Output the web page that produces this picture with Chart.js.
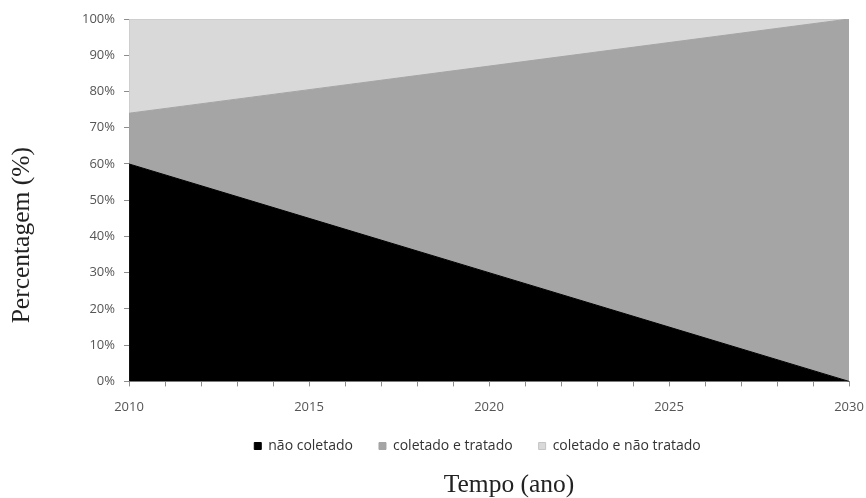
<!DOCTYPE html>
<html>
<head>
<meta charset="utf-8">
<script src="https://cdn.jsdelivr.net/npm/chart.js@4/dist/chart.umd.min.js"></script>
<style>
  html, body { margin: 0; padding: 0; background: #fff; }
  #wrap { width: 866px; height: 498px; }
</style>
</head>
<body>
<div id="wrap"><canvas id="c" width="866" height="498"></canvas></div>
<script>
// Shares of waste by destination over time (percent, stacked to 100%)
const years = [2010, 2015, 2020, 2025, 2030];
const naoColetado = [60, 45, 30, 15, 0];
const coletadoTratado = [14, 35.5, 57, 78.5, 100];
const coletadoNaoTratado = [26, 19.5, 13, 6.5, 0];
const seriesNames = ['não coletado', 'coletado e tratado', 'coletado e não tratado'];
const xTickLabels = [2010, 2015, 2020, 2025, 2030];
const xTitle = 'Tempo (ano)';
const yTitle = 'Percentagem (%)';

const toPoints = arr => years.map((y, i) => ({ x: y, y: arr[i] }));

const sans = '"Open Sans", "Liberation Sans", sans-serif';
const serif = '"Liberation Serif", "DejaVu Serif", serif';
const tickFont = { family: sans, size: 13 };
const captionFont = '25.5px ' + serif;

// Legend sits close under the tick labels
const placeLegend = {
  id: 'placeLegend',
  afterLayout(chart) {
    const lg = chart.legend;
    if (!lg) return;
    lg.left += 8; lg.right += 8;
    lg.top -= 15; lg.bottom -= 15;
  }
};

// Axis captions in a serif face, offset from the plot centre
const axisCaptions = {
  id: 'axisCaptions',
  afterDraw(chart) {
    const { ctx, chartArea } = chart;
    ctx.save();
    ctx.fillStyle = '#222';
    ctx.font = captionFont;
    ctx.textAlign = 'center';
    ctx.textBaseline = 'middle';
    ctx.fillText(xTitle, (chartArea.left + chartArea.right) / 2 + 20, chart.height - 13);
    ctx.translate(22, (chartArea.top + chartArea.bottom) / 2 + 35);
    ctx.rotate(-Math.PI / 2);
    ctx.fillText(yTitle, 0, 0);
    ctx.restore();
  }
};

new Chart(document.getElementById('c'), {
  type: 'line',
  data: {
    datasets: [
      { label: seriesNames[0], data: toPoints(naoColetado), backgroundColor: '#000000', borderColor: '#000000', fill: 'origin' },
      { label: seriesNames[1], data: toPoints(coletadoTratado), backgroundColor: '#a5a5a5', borderColor: '#a5a5a5', fill: '-1' },
      { label: seriesNames[2], data: toPoints(coletadoNaoTratado), backgroundColor: '#d9d9d9', borderColor: '#c4c4c4', fill: '-1' }
    ]
  },
  plugins: [placeLegend, axisCaptions],
  options: {
    responsive: false,
    animation: false,
    elements: { point: { radius: 0 }, line: { borderWidth: 1, tension: 0 } },
    layout: { padding: { left: 73, right: 0, top: 19, bottom: 20 } },
    scales: {
      x: {
        type: 'linear',
        min: 2010, max: 2030,
        border: { color: '#8c8c8c', width: 1 },
        grid: { drawOnChartArea: false, drawTicks: true, tickLength: 5, color: '#8c8c8c' },
        ticks: {
          stepSize: 1, autoSkip: false, maxRotation: 0, padding: 13,
          color: '#555', font: tickFont,
          callback: v => xTickLabels.includes(v) ? String(v) : ''
        },
        afterFit: scale => { scale.paddingRight = 17; }
      },
      y: {
        stacked: true,
        min: 0, max: 100,
        border: { color: '#8c8c8c', width: 1 },
        grid: { drawOnChartArea: false, drawTicks: true, tickLength: 5, color: '#8c8c8c' },
        ticks: { stepSize: 10, padding: 9, color: '#555', font: tickFont, callback: v => v + '%' }
      }
    },
    plugins: {
      legend: {
        position: 'bottom',
        labels: {
          boxWidth: 7, boxHeight: 7, padding: 26,
          color: '#333', font: { family: sans, size: 14 }
        }
      },
      title: { display: false },
      tooltip: { enabled: false }
    }
  }
});
</script>
</body>
</html>
